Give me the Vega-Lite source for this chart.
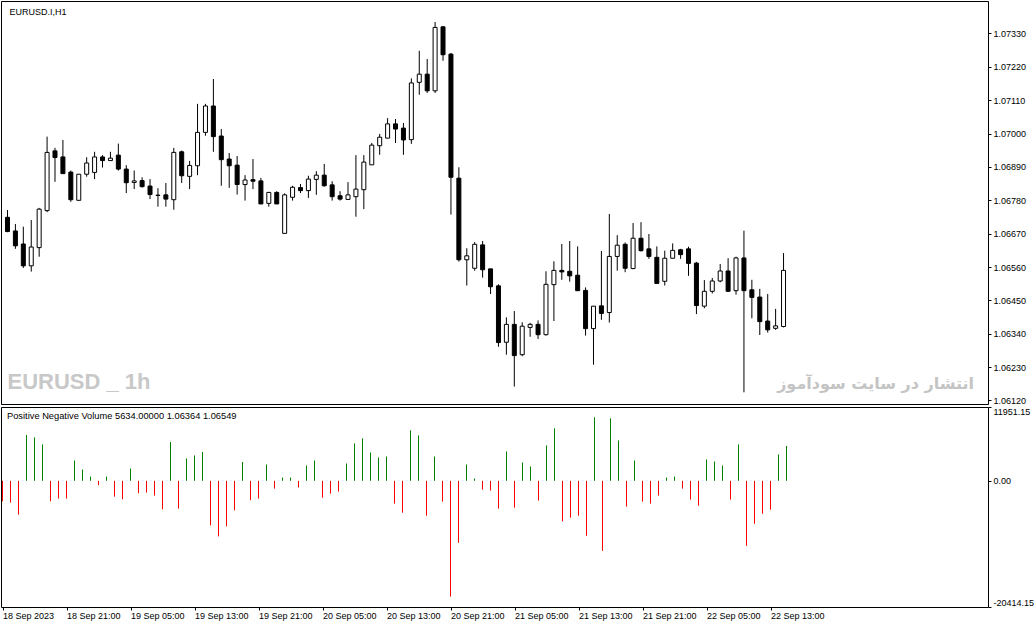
{
  "$schema": "https://vega.github.io/schema/vega-lite/v6.json",
  "padding": {"left": 0, "top": 0, "right": 0, "bottom": 0},
  "background": "#ffffff",
  "bounds": "flush",
  "spacing": 3,
  "datasets": {
    "bars": [
      {"t": "2023-09-18T13:00:00Z", "o": 1.06724, "h": 1.06748, "l": 1.06675, "c": 1.06677, "v": -3299},
      {"t": "2023-09-18T14:00:00Z", "o": 1.06679, "h": 1.06702, "l": 1.06620, "c": 1.06630, "v": -3526},
      {"t": "2023-09-18T15:00:00Z", "o": 1.06636, "h": 1.06693, "l": 1.06557, "c": 1.06564, "v": -5476},
      {"t": "2023-09-18T16:00:00Z", "o": 1.06564, "h": 1.06715, "l": 1.06545, "c": 1.06626, "v": 7426},
      {"t": "2023-09-18T17:00:00Z", "o": 1.06624, "h": 1.06755, "l": 1.06594, "c": 1.06751, "v": 7036},
      {"t": "2023-09-18T18:00:00Z", "o": 1.06746, "h": 1.06990, "l": 1.06741, "c": 1.06938, "v": 5899},
      {"t": "2023-09-18T19:00:00Z", "o": 1.06943, "h": 1.06953, "l": 1.06841, "c": 1.06921, "v": -3299},
      {"t": "2023-09-18T20:00:00Z", "o": 1.06923, "h": 1.06979, "l": 1.06868, "c": 1.06868, "v": -2876},
      {"t": "2023-09-18T21:00:00Z", "o": 1.06873, "h": 1.06878, "l": 1.06775, "c": 1.06782, "v": -2876},
      {"t": "2023-09-18T22:00:00Z", "o": 1.06780, "h": 1.06866, "l": 1.06780, "c": 1.06866, "v": 3299},
      {"t": "2023-09-18T23:00:00Z", "o": 1.06866, "h": 1.06922, "l": 1.06858, "c": 1.06903, "v": 1836},
      {"t": "2023-09-19T00:00:00Z", "o": 1.06872, "h": 1.06940, "l": 1.06850, "c": 1.06923, "v": 699},
      {"t": "2023-09-19T01:00:00Z", "o": 1.06923, "h": 1.06929, "l": 1.06888, "c": 1.06911, "v": -699},
      {"t": "2023-09-19T02:00:00Z", "o": 1.06911, "h": 1.06940, "l": 1.06911, "c": 1.06919, "v": 699},
      {"t": "2023-09-19T03:00:00Z", "o": 1.06929, "h": 1.06967, "l": 1.06878, "c": 1.06883, "v": -2551},
      {"t": "2023-09-19T04:00:00Z", "o": 1.06883, "h": 1.06896, "l": 1.06804, "c": 1.06838, "v": -2974},
      {"t": "2023-09-19T05:00:00Z", "o": 1.06839, "h": 1.06878, "l": 1.06817, "c": 1.06844, "v": 1999},
      {"t": "2023-09-19T06:00:00Z", "o": 1.06845, "h": 1.06856, "l": 1.06822, "c": 1.06825, "v": -1999},
      {"t": "2023-09-19T07:00:00Z", "o": 1.06827, "h": 1.06850, "l": 1.06784, "c": 1.06799, "v": -1901},
      {"t": "2023-09-19T08:00:00Z", "o": 1.06797, "h": 1.06820, "l": 1.06759, "c": 1.06796, "v": -2389},
      {"t": "2023-09-19T09:00:00Z", "o": 1.06798, "h": 1.06837, "l": 1.06759, "c": 1.06784, "v": -4599},
      {"t": "2023-09-19T10:00:00Z", "o": 1.06782, "h": 1.06953, "l": 1.06749, "c": 1.06938, "v": 6289},
      {"t": "2023-09-19T11:00:00Z", "o": 1.06940, "h": 1.06944, "l": 1.06837, "c": 1.06861, "v": -4501},
      {"t": "2023-09-19T12:00:00Z", "o": 1.06859, "h": 1.06910, "l": 1.06817, "c": 1.06895, "v": 3624},
      {"t": "2023-09-19T13:00:00Z", "o": 1.06894, "h": 1.07098, "l": 1.06863, "c": 1.07004, "v": 4111},
      {"t": "2023-09-19T14:00:00Z", "o": 1.07004, "h": 1.07098, "l": 1.06993, "c": 1.07091, "v": 4664},
      {"t": "2023-09-19T15:00:00Z", "o": 1.07091, "h": 1.07180, "l": 1.06940, "c": 1.06990, "v": -7199},
      {"t": "2023-09-19T16:00:00Z", "o": 1.06992, "h": 1.07015, "l": 1.06828, "c": 1.06914, "v": -8986},
      {"t": "2023-09-19T17:00:00Z", "o": 1.06916, "h": 1.06936, "l": 1.06821, "c": 1.06894, "v": -7361},
      {"t": "2023-09-19T18:00:00Z", "o": 1.06896, "h": 1.06926, "l": 1.06799, "c": 1.06832, "v": -4761},
      {"t": "2023-09-19T19:00:00Z", "o": 1.06832, "h": 1.06863, "l": 1.06779, "c": 1.06847, "v": 3039},
      {"t": "2023-09-19T20:00:00Z", "o": 1.06848, "h": 1.06916, "l": 1.06817, "c": 1.06843, "v": -3136},
      {"t": "2023-09-19T21:00:00Z", "o": 1.06844, "h": 1.06854, "l": 1.06768, "c": 1.06768, "v": -2876},
      {"t": "2023-09-19T22:00:00Z", "o": 1.06770, "h": 1.06808, "l": 1.06759, "c": 1.06806, "v": 2649},
      {"t": "2023-09-19T23:00:00Z", "o": 1.06806, "h": 1.06810, "l": 1.06768, "c": 1.06768, "v": -1251},
      {"t": "2023-09-20T00:00:00Z", "o": 1.06671, "h": 1.06803, "l": 1.06671, "c": 1.06798, "v": 536},
      {"t": "2023-09-20T01:00:00Z", "o": 1.06790, "h": 1.06828, "l": 1.06779, "c": 1.06823, "v": 536},
      {"t": "2023-09-20T02:00:00Z", "o": 1.06822, "h": 1.06834, "l": 1.06804, "c": 1.06812, "v": -1089},
      {"t": "2023-09-20T03:00:00Z", "o": 1.06812, "h": 1.06861, "l": 1.06788, "c": 1.06850, "v": 2486},
      {"t": "2023-09-20T04:00:00Z", "o": 1.06849, "h": 1.06876, "l": 1.06798, "c": 1.06863, "v": 3299},
      {"t": "2023-09-20T05:00:00Z", "o": 1.06863, "h": 1.06900, "l": 1.06825, "c": 1.06828, "v": -2714},
      {"t": "2023-09-20T06:00:00Z", "o": 1.06831, "h": 1.06843, "l": 1.06779, "c": 1.06792, "v": -2064},
      {"t": "2023-09-20T07:00:00Z", "o": 1.06795, "h": 1.06810, "l": 1.06779, "c": 1.06784, "v": -1739},
      {"t": "2023-09-20T08:00:00Z", "o": 1.06783, "h": 1.06840, "l": 1.06783, "c": 1.06798, "v": 2811},
      {"t": "2023-09-20T09:00:00Z", "o": 1.06792, "h": 1.06929, "l": 1.06726, "c": 1.06817, "v": 6061},
      {"t": "2023-09-20T10:00:00Z", "o": 1.06815, "h": 1.06929, "l": 1.06751, "c": 1.06906, "v": 6874},
      {"t": "2023-09-20T11:00:00Z", "o": 1.06897, "h": 1.06969, "l": 1.06897, "c": 1.06962, "v": 4599},
      {"t": "2023-09-20T12:00:00Z", "o": 1.06960, "h": 1.06999, "l": 1.06930, "c": 1.06988, "v": 3786},
      {"t": "2023-09-20T13:00:00Z", "o": 1.06985, "h": 1.07051, "l": 1.06985, "c": 1.07032, "v": 3949},
      {"t": "2023-09-20T14:00:00Z", "o": 1.07032, "h": 1.07048, "l": 1.06969, "c": 1.07015, "v": -3689},
      {"t": "2023-09-20T15:00:00Z", "o": 1.07018, "h": 1.07035, "l": 1.06930, "c": 1.06979, "v": -5151},
      {"t": "2023-09-20T16:00:00Z", "o": 1.06980, "h": 1.07182, "l": 1.06966, "c": 1.07167, "v": 8174},
      {"t": "2023-09-20T17:00:00Z", "o": 1.07169, "h": 1.07273, "l": 1.07128, "c": 1.07196, "v": 7361},
      {"t": "2023-09-20T18:00:00Z", "o": 1.07196, "h": 1.07246, "l": 1.07134, "c": 1.07141, "v": -5639},
      {"t": "2023-09-20T19:00:00Z", "o": 1.07141, "h": 1.07368, "l": 1.07134, "c": 1.07350, "v": 3949},
      {"t": "2023-09-20T20:00:00Z", "o": 1.07352, "h": 1.07354, "l": 1.07240, "c": 1.07260, "v": -3364},
      {"t": "2023-09-20T21:00:00Z", "o": 1.07262, "h": 1.07266, "l": 1.06733, "c": 1.06856, "v": -18736},
      {"t": "2023-09-20T22:00:00Z", "o": 1.06853, "h": 1.06889, "l": 1.06578, "c": 1.06584, "v": -10026},
      {"t": "2023-09-20T23:00:00Z", "o": 1.06584, "h": 1.06622, "l": 1.06499, "c": 1.06597, "v": 2649},
      {"t": "2023-09-21T00:00:00Z", "o": 1.06556, "h": 1.06642, "l": 1.06548, "c": 1.06635, "v": 374},
      {"t": "2023-09-21T01:00:00Z", "o": 1.06633, "h": 1.06646, "l": 1.06525, "c": 1.06551, "v": -1414},
      {"t": "2023-09-21T02:00:00Z", "o": 1.06554, "h": 1.06554, "l": 1.06471, "c": 1.06495, "v": -1576},
      {"t": "2023-09-21T03:00:00Z", "o": 1.06498, "h": 1.06503, "l": 1.06297, "c": 1.06311, "v": -4501},
      {"t": "2023-09-21T04:00:00Z", "o": 1.06312, "h": 1.06394, "l": 1.06271, "c": 1.06371, "v": 4761},
      {"t": "2023-09-21T05:00:00Z", "o": 1.06371, "h": 1.06415, "l": 1.06166, "c": 1.06268, "v": -4339},
      {"t": "2023-09-21T06:00:00Z", "o": 1.06271, "h": 1.06378, "l": 1.06266, "c": 1.06365, "v": 2974},
      {"t": "2023-09-21T07:00:00Z", "o": 1.06361, "h": 1.06376, "l": 1.06330, "c": 1.06371, "v": 2324},
      {"t": "2023-09-21T08:00:00Z", "o": 1.06371, "h": 1.06384, "l": 1.06323, "c": 1.06337, "v": -3201},
      {"t": "2023-09-21T09:00:00Z", "o": 1.06337, "h": 1.06546, "l": 1.06334, "c": 1.06503, "v": 5736},
      {"t": "2023-09-21T10:00:00Z", "o": 1.06502, "h": 1.06579, "l": 1.06382, "c": 1.06549, "v": 8499},
      {"t": "2023-09-21T11:00:00Z", "o": 1.06549, "h": 1.06636, "l": 1.06518, "c": 1.06544, "v": -6549},
      {"t": "2023-09-21T12:00:00Z", "o": 1.06546, "h": 1.06646, "l": 1.06512, "c": 1.06531, "v": -5964},
      {"t": "2023-09-21T13:00:00Z", "o": 1.06533, "h": 1.06628, "l": 1.06482, "c": 1.06482, "v": -5639},
      {"t": "2023-09-21T14:00:00Z", "o": 1.06483, "h": 1.06493, "l": 1.06334, "c": 1.06357, "v": -8889},
      {"t": "2023-09-21T15:00:00Z", "o": 1.06357, "h": 1.06431, "l": 1.06238, "c": 1.06431, "v": 10286},
      {"t": "2023-09-21T16:00:00Z", "o": 1.06432, "h": 1.06613, "l": 1.06386, "c": 1.06407, "v": -11326},
      {"t": "2023-09-21T17:00:00Z", "o": 1.06410, "h": 1.06735, "l": 1.06377, "c": 1.06595, "v": 10124},
      {"t": "2023-09-21T18:00:00Z", "o": 1.06595, "h": 1.06665, "l": 1.06548, "c": 1.06632, "v": 6549},
      {"t": "2023-09-21T19:00:00Z", "o": 1.06635, "h": 1.06641, "l": 1.06543, "c": 1.06556, "v": -4176},
      {"t": "2023-09-21T20:00:00Z", "o": 1.06555, "h": 1.06705, "l": 1.06553, "c": 1.06655, "v": 3299},
      {"t": "2023-09-21T21:00:00Z", "o": 1.06655, "h": 1.06708, "l": 1.06611, "c": 1.06614, "v": -3364},
      {"t": "2023-09-21T22:00:00Z", "o": 1.06620, "h": 1.06669, "l": 1.06587, "c": 1.06595, "v": -3689},
      {"t": "2023-09-21T23:00:00Z", "o": 1.06592, "h": 1.06628, "l": 1.06506, "c": 1.06506, "v": -2389},
      {"t": "2023-09-22T00:00:00Z", "o": 1.06513, "h": 1.06614, "l": 1.06499, "c": 1.06589, "v": 536},
      {"t": "2023-09-22T01:00:00Z", "o": 1.06589, "h": 1.06638, "l": 1.06589, "c": 1.06615, "v": 699},
      {"t": "2023-09-22T02:00:00Z", "o": 1.06617, "h": 1.06620, "l": 1.06587, "c": 1.06601, "v": -1251},
      {"t": "2023-09-22T03:00:00Z", "o": 1.06620, "h": 1.06627, "l": 1.06531, "c": 1.06572, "v": -3039},
      {"t": "2023-09-22T04:00:00Z", "o": 1.06573, "h": 1.06577, "l": 1.06405, "c": 1.06433, "v": -4014},
      {"t": "2023-09-22T05:00:00Z", "o": 1.06431, "h": 1.06517, "l": 1.06424, "c": 1.06480, "v": 3461},
      {"t": "2023-09-22T06:00:00Z", "o": 1.06480, "h": 1.06524, "l": 1.06473, "c": 1.06514, "v": 3136},
      {"t": "2023-09-22T07:00:00Z", "o": 1.06514, "h": 1.06570, "l": 1.06510, "c": 1.06547, "v": 2486},
      {"t": "2023-09-22T08:00:00Z", "o": 1.06547, "h": 1.06589, "l": 1.06480, "c": 1.06480, "v": -3039},
      {"t": "2023-09-22T09:00:00Z", "o": 1.06482, "h": 1.06594, "l": 1.06469, "c": 1.06590, "v": 5899},
      {"t": "2023-09-22T10:00:00Z", "o": 1.06590, "h": 1.06680, "l": 1.06147, "c": 1.06482, "v": -10514},
      {"t": "2023-09-22T11:00:00Z", "o": 1.06485, "h": 1.06518, "l": 1.06391, "c": 1.06460, "v": -6939},
      {"t": "2023-09-22T12:00:00Z", "o": 1.06461, "h": 1.06488, "l": 1.06336, "c": 1.06380, "v": -5314},
      {"t": "2023-09-22T13:00:00Z", "o": 1.06382, "h": 1.06471, "l": 1.06344, "c": 1.06353, "v": -4664},
      {"t": "2023-09-22T14:00:00Z", "o": 1.06358, "h": 1.06422, "l": 1.06353, "c": 1.06366, "v": 4274},
      {"t": "2023-09-22T15:00:00Z", "o": 1.06364, "h": 1.06606, "l": 1.06361, "c": 1.06549, "v": 5634}
    ]
  },
  "vconcat": [
    {
      "width": 987,
      "height": 403,
      "layer": [
        {
          "data": {"name": "bars"},
          "mark": {"type": "rule", "color": "#000000", "strokeWidth": 1},
          "encoding": {
            "x": {"field": "t", "type": "temporal", "scale": {"type": "utc", "domain": [{"year": 2023, "month": 9, "date": 18, "hours": 12, "minutes": 48, "seconds": 45, "utc": true}, {"year": 2023, "month": 9, "date": 23, "hours": 16, "minutes": 11, "seconds": 15, "utc": true}]}, "axis": null},
            "y": {"field": "l", "type": "quantitative", "scale": {"domain": [1.0610846, 1.0743715], "zero": false, "nice": false}, "axis": {"orient": "right", "values": [1.0612, 1.0623, 1.0634, 1.0645, 1.0656, 1.0667, 1.0678, 1.0689, 1.07, 1.0711, 1.0722, 1.0733], "tickCount": 40, "format": ".5f", "labelOverlap": false, "labelFlush": false}},
            "y2": {"field": "h"}
          }
        },
        {
          "data": {"name": "bars"},
          "mark": {"type": "bar", "width": 4, "stroke": "#000000", "strokeWidth": 1},
          "encoding": {
            "x": {"field": "t", "type": "temporal"},
            "y": {"field": "o", "type": "quantitative"},
            "y2": {"field": "c"},
            "fill": {"condition": {"test": "datum.c >= datum.o", "value": "#ffffff"}, "value": "#000000"}
          }
        },
        {
          "data": {"values": [{}]},
          "mark": {"type": "text", "align": "left", "baseline": "middle", "font": "Liberation Sans", "fontWeight": "bold", "fontSize": 22, "color": "#c8c8c8"},
          "encoding": {
            "x": {"datum": {"year": 2023, "month": 9, "date": 18, "hours": 13, "minutes": 0, "seconds": 0, "utc": true}, "type": "temporal"},
            "y": {"datum": 1.06181, "type": "quantitative"},
            "text": {"value": "EURUSD _ 1h"}
          }
        },
        {
          "data": {"values": [{}]},
          "mark": {"type": "text", "align": "right", "baseline": "middle", "font": "DejaVu Sans", "fontWeight": "bold", "fontSize": 16, "color": "#c4c4c4"},
          "encoding": {
            "x": {"datum": {"year": 2023, "month": 9, "date": 23, "hours": 15, "minutes": 3, "seconds": 45, "utc": true}, "type": "temporal"},
            "y": {"datum": 1.061744, "type": "quantitative"},
            "text": {"value": "انتشار در سایت سودآموز"}
          }
        },
        {
          "data": {"values": [{}]},
          "mark": {"type": "text", "align": "left", "baseline": "middle", "font": "Liberation Sans", "fontSize": 9, "color": "#000000"},
          "encoding": {
            "x": {"datum": {"year": 2023, "month": 9, "date": 18, "hours": 13, "minutes": 15, "seconds": 0, "utc": true}, "type": "temporal"},
            "y": {"datum": 1.0739924, "type": "quantitative"},
            "text": {"value": "EURUSD.I,H1"}
          }
        }
      ]
    },
    {
      "width": 987,
      "height": 200,
      "layer": [
        {
          "data": {"name": "bars"},
          "mark": {"type": "rule", "strokeWidth": 1},
          "encoding": {
            "x": {"field": "t", "type": "temporal", "scale": {"type": "utc", "domain": [{"year": 2023, "month": 9, "date": 18, "hours": 12, "minutes": 48, "seconds": 45, "utc": true}, {"year": 2023, "month": 9, "date": 23, "hours": 16, "minutes": 11, "seconds": 15, "utc": true}]}, "axis": {
              "values": [
                {"year": 2023, "month": 9, "date": 18, "hours": 13, "utc": true},
                {"year": 2023, "month": 9, "date": 18, "hours": 21, "utc": true},
                {"year": 2023, "month": 9, "date": 19, "hours": 5, "utc": true},
                {"year": 2023, "month": 9, "date": 19, "hours": 13, "utc": true},
                {"year": 2023, "month": 9, "date": 19, "hours": 21, "utc": true},
                {"year": 2023, "month": 9, "date": 20, "hours": 5, "utc": true},
                {"year": 2023, "month": 9, "date": 20, "hours": 13, "utc": true},
                {"year": 2023, "month": 9, "date": 20, "hours": 21, "utc": true},
                {"year": 2023, "month": 9, "date": 21, "hours": 5, "utc": true},
                {"year": 2023, "month": 9, "date": 21, "hours": 13, "utc": true},
                {"year": 2023, "month": 9, "date": 21, "hours": 21, "utc": true},
                {"year": 2023, "month": 9, "date": 22, "hours": 5, "utc": true},
                {"year": 2023, "month": 9, "date": 22, "hours": 13, "utc": true}
              ],
              "tickCount": 60,
              "labelExpr": "utcFormat(datum.value, '%d %H') == '18 13' ? '18 Sep 2023' : utcFormat(datum.value, '%d %b %H:%M')",
              "labelAlign": "left",
              "labelFlush": false,
              "labelOverlap": false,
              "tickSize": 3,
              "labelPadding": 1
            }},
            "y": {"field": "v", "type": "quantitative", "scale": {"domain": [-20414.15, 11951.15], "zero": false, "nice": false}, "axis": {"orient": "right", "values": [-20414.15, 0, 11951.15], "tickCount": 10, "labelExpr": "replace(format(datum.value, '.2f'), '\u2212', '-')", "labelFlush": true, "labelOverlap": false}},
            "y2": {"datum": 0},
            "color": {"condition": {"test": "datum.v >= 0", "value": "#008000"}, "value": "#ff0000"}
          }
        },
        {
          "data": {"values": [{}]},
          "mark": {"type": "text", "align": "left", "baseline": "middle", "font": "Liberation Sans", "fontSize": 9.3, "color": "#000000"},
          "encoding": {
            "x": {"datum": {"year": 2023, "month": 9, "date": 18, "hours": 13, "minutes": 33, "seconds": 45, "utc": true}, "type": "temporal"},
            "y": {"datum": 10575, "type": "quantitative"},
            "text": {"value": "Positive Negative Volume 5634.00000 1.06364 1.06549"}
          }
        }
      ]
    }
  ],
  "config": {
    "view": {"stroke": "#000000", "strokeWidth": 1},
    "axis": {
      "title": null,
      "grid": false,
      "domain": false,
      "labelOverlap": false,
      "labelFont": "Liberation Sans",
      "labelFontSize": 9,
      "labelColor": "#000000",
      "tickColor": "#000000",
      "tickSize": 3,
      "labelPadding": 2
    }
  }
}
